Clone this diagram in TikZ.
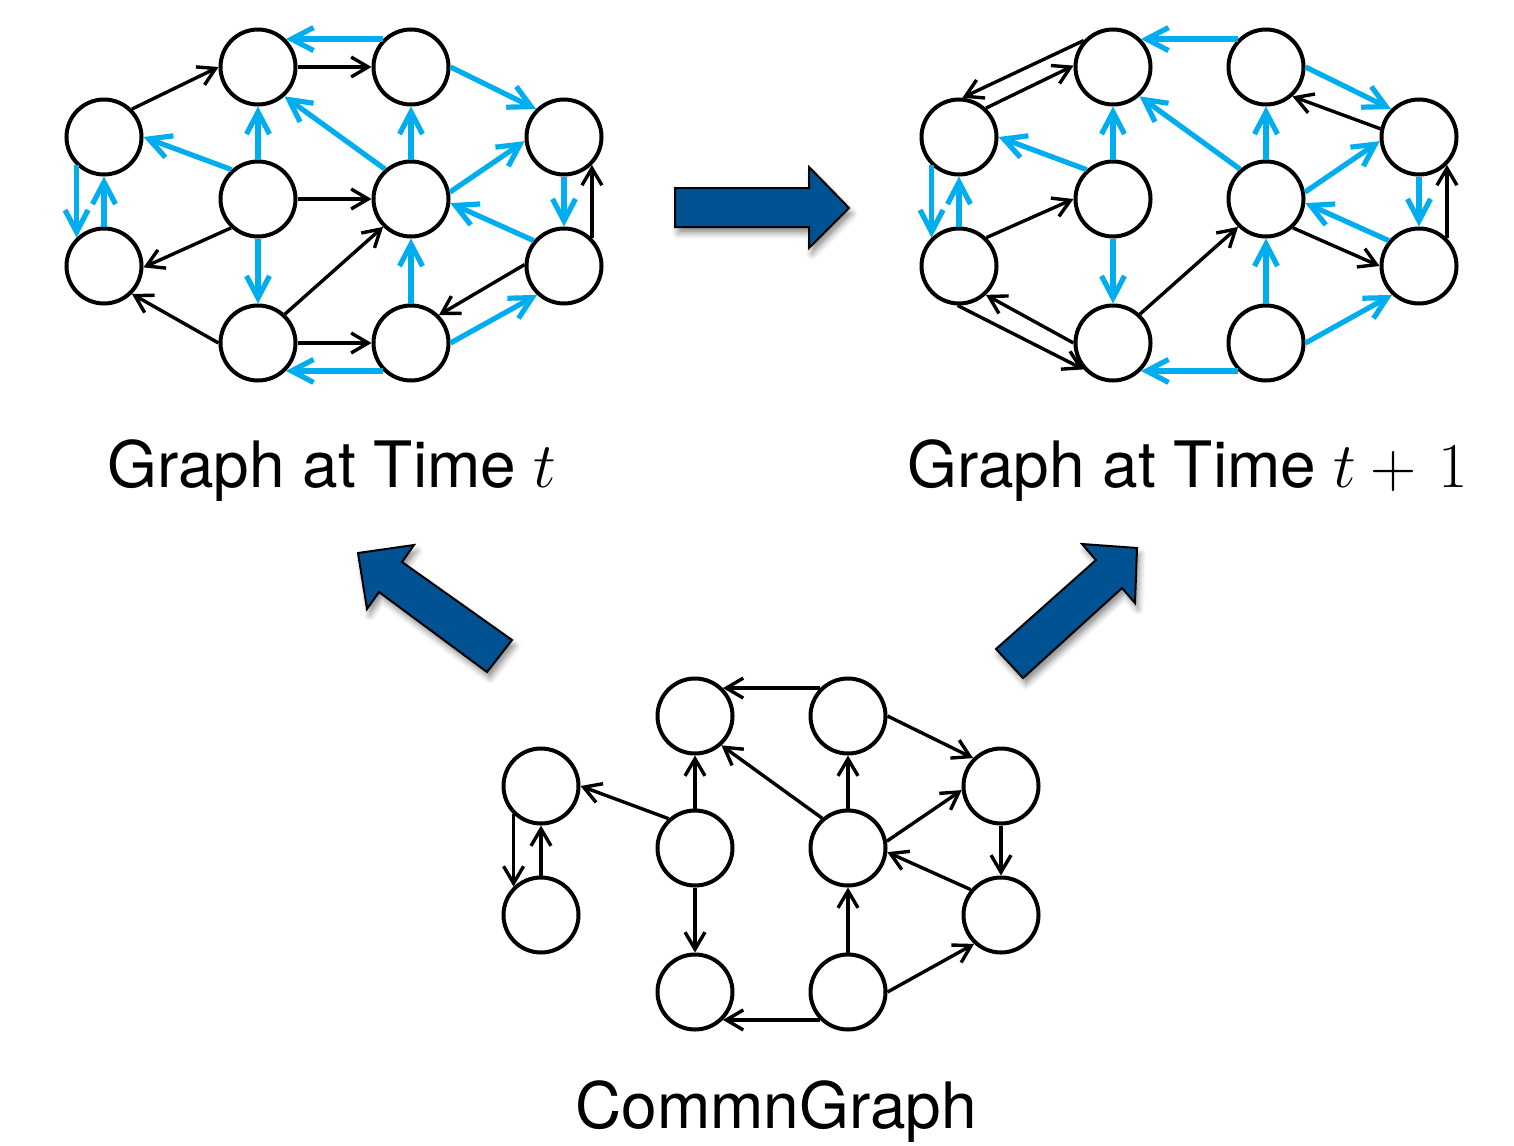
\RequirePackage{fix-cm}
\documentclass[tikz,border=0pt]{standalone}
\usepackage{fontspec}
\newfontfamily\labelfont{TeX Gyre Heros}
\usetikzlibrary{arrows.meta,shadows.blur}
\definecolor{edgecyan}{RGB}{0,174,239}
\definecolor{bigblue}{RGB}{0,82,147}
\tikzset{
  vtx/.style={circle,draw,line width=2pt,minimum size=37.5pt,inner sep=0pt},
  blk/.style={line width=1.7pt,-{Straight Barb[length=8.5pt,width=10pt]}},
  blu/.style={draw=edgecyan,line width=2.6pt,-{Straight Barb[length=11pt,width=11.5pt]}},
  bigarrow/.style={fill=bigblue,draw=black,line width=1pt,line join=miter,
    blur shadow={shadow xshift=1.5pt,shadow yshift=-3pt,shadow blur radius=3pt,shadow opacity=45}},
  caption/.style={anchor=base west,inner sep=0pt,font=\labelfont\fontsize{32}{38}\selectfont},
}
% ten vertices of one graph: prefix, x shift, y shift
\newcommand\placenodes[3]{%
  \node[vtx] (#1a) at (104+#2,137+#3) {};
  \node[vtx] (#1b) at (104+#2,266+#3) {};
  \node[vtx] (#1c) at (258+#2,67+#3) {};
  \node[vtx] (#1d) at (258+#2,199+#3) {};
  \node[vtx] (#1e) at (258+#2,343+#3) {};
  \node[vtx] (#1f) at (411+#2,67+#3) {};
  \node[vtx] (#1g) at (411+#2,199+#3) {};
  \node[vtx] (#1h) at (411+#2,343+#3) {};
  \node[vtx] (#1i) at (564+#2,137+#3) {};
  \node[vtx] (#1j) at (564+#2,266+#3) {};
}
% the edges shared by both time steps
\newcommand\commonedges[2]{%
  \draw[#2] (#1f.135) -- (#1c.45);
  \draw[#2] (#1a.226) -- (#1b.134);
  \draw[#2] (#1b) -- (#1a);
  \draw[#2] (#1d.132) -- (#1a.0);
  \draw[#2] (#1d) -- (#1c);
  \draw[#2] (#1d) -- (#1e);
  \draw[#2] (#1g.131) -- (#1c.312);
  \draw[#2] (#1g) -- (#1f);
  \draw[#2] (#1h) -- (#1g);
  \draw[#2] (#1f.0) -- (#1i.135);
  \draw[#2] (#1g.10) -- (#1i.186);
  \draw[#2] (#1j.140) -- (#1g.354);
  \draw[#2] (#1i) -- (#1j);
  \draw[#2] (#1h.0) -- (#1j.227);
  \draw[#2] (#1h.225) -- (#1e.315);
}
\begin{document}
\begin{tikzpicture}[x=0.5pt,y=-0.5pt]
\path[use as bounding box] (0,0) rectangle (1514,1145);

% graph at time t
\placenodes{L}{0}{0}
\commonedges{L}{blu}
\draw[blk] (La.45) -- (Lc.180);
\draw[blk] (Lc) -- (Lf);
\draw[blk] (Ld) -- (Lg);
\draw[blk] (Ld.227) -- (Lb.358);
\draw[blk] (Le.180) -- (Lb.315);
\draw[blk] (Le.47) -- (Lg.225);
\draw[blk] (Le) -- (Lh);
\draw[blk] (Lj.178) -- (Lh.45);
\draw[blk] (Lj.45) -- (Li.315);

% graph at time t+1
\placenodes{R}{855}{0}
\commonedges{R}{blu}
\draw[blk] (Rc.138) -- (Ra.85);
\draw[blk] (Ra.47) -- (Rc.178);
\draw[blk] (Rb.46) -- (Rd.180);
\draw[blk] (Re.180) -- (Rb.313);
\draw[blk] (Rb.268) -- (Re.222);
\draw[blk] (Re.47) -- (Rg.225);
\draw[blk] (Ri.168) -- (Rf.312);
\draw[blk] (Rg.313) -- (Rj.180);
\draw[blk] (Rj.45) -- (Ri.315);

% common graph
\placenodes{C}{437}{649}
\commonedges{C}{blk}

% transition arrows
\draw[bigarrow] (675,188) -- (809,188) -- (809,167) -- (849,208) -- (809,248) -- (809,227) -- (675,227) -- cycle;
\draw[bigarrow] (358,553) -- (414,545) -- (402,562) -- (512,640) -- (487,672) -- (379,592) -- (367,609) -- cycle;
\draw[bigarrow] (1137,548) -- (1135,603) -- (1122,588) -- (1023,678) -- (996,649) -- (1096,560) -- (1082,544) -- cycle;

% captions
\node[caption] (capL) at (107,487) {Graph at Time $t$};
\node[caption] (capR) at (907,487) {Graph at Time $t+\mkern2mu1$};
\node[caption] (capC) at (575,1128) {CommnGraph};
\end{tikzpicture}
\end{document}
